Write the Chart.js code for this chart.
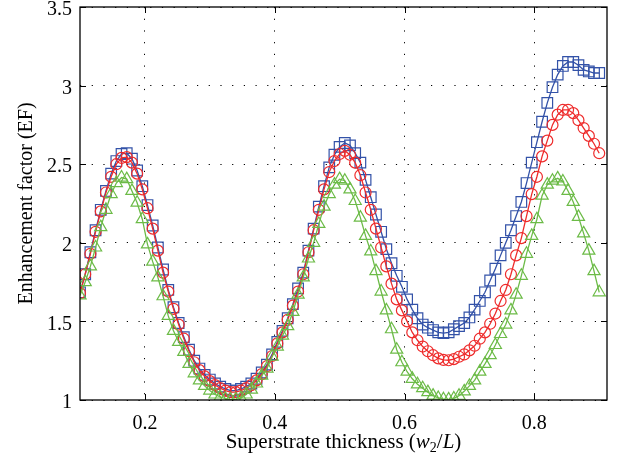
<!DOCTYPE html>
<html>
<head>
<meta charset="utf-8">
<script src="https://cdn.jsdelivr.net/npm/chart.js@4.4.0/dist/chart.umd.min.js"></script>
<style>
  html, body { margin: 0; padding: 0; background: #fff; }
  #wrap { position: relative; width: 619px; height: 465px; }
</style>
</head>
<body>
<div id="wrap"><canvas id="chart" width="619" height="465"></canvas></div>
<script>
// Données
const thickness = [
  0.100, 0.108, 0.116, 0.124, 0.132, 0.140, 0.148, 0.156, 0.164, 0.172,
  0.180, 0.188, 0.196, 0.204, 0.212, 0.220, 0.228, 0.236, 0.244, 0.252,
  0.260, 0.268, 0.276, 0.284, 0.292, 0.300, 0.308, 0.316, 0.324, 0.332,
  0.340, 0.348, 0.356, 0.364, 0.372, 0.380, 0.388, 0.396, 0.404, 0.412,
  0.420, 0.428, 0.436, 0.444, 0.452, 0.460, 0.468, 0.476, 0.484, 0.492,
  0.500, 0.508, 0.516, 0.524, 0.532, 0.540, 0.548, 0.556, 0.564, 0.572,
  0.580, 0.588, 0.596, 0.604, 0.612, 0.620, 0.628, 0.636, 0.644, 0.652,
  0.660, 0.668, 0.676, 0.684, 0.692, 0.700, 0.708, 0.716, 0.724, 0.732,
  0.740, 0.748, 0.756, 0.764, 0.772, 0.780, 0.788, 0.796, 0.804, 0.812,
  0.820, 0.828, 0.836, 0.844, 0.852, 0.860, 0.868, 0.876, 0.884, 0.892,
  0.900
];

const efSquares = [
  1.685, 1.80, 1.94, 2.08, 2.21, 2.33, 2.44, 2.52, 2.565, 2.57,
  2.535, 2.46, 2.36, 2.24, 2.11, 1.97, 1.83, 1.70, 1.59, 1.49,
  1.40, 1.32, 1.25, 1.20, 1.16, 1.13, 1.105, 1.085, 1.07, 1.06,
  1.06, 1.07, 1.085, 1.105, 1.135, 1.175, 1.225, 1.29, 1.37, 1.44,
  1.52, 1.61, 1.71, 1.81, 1.95, 2.09, 2.23, 2.36, 2.48, 2.56,
  2.61, 2.635, 2.62, 2.57, 2.51, 2.40, 2.29, 2.18, 2.07, 1.96,
  1.87, 1.79, 1.72, 1.64, 1.575, 1.52, 1.48, 1.46, 1.445, 1.43,
  1.425, 1.43, 1.45, 1.47, 1.49, 1.525, 1.575, 1.63, 1.685, 1.76,
  1.835, 1.92, 2.00, 2.08, 2.17, 2.26, 2.38, 2.51, 2.64, 2.77,
  2.89, 2.99, 3.07, 3.125, 3.15, 3.15, 3.13, 3.10, 3.09, 3.08,
  3.08
];

const efCircles = [
  1.68, 1.80, 1.93, 2.07, 2.20, 2.32, 2.42, 2.50, 2.54, 2.545,
  2.51, 2.44, 2.34, 2.22, 2.09, 1.95, 1.81, 1.69, 1.58, 1.48,
  1.39, 1.31, 1.24, 1.19, 1.15, 1.12, 1.095, 1.075, 1.06, 1.05,
  1.05, 1.06, 1.075, 1.095, 1.125, 1.165, 1.215, 1.28, 1.36, 1.43,
  1.51, 1.60, 1.69, 1.80, 1.94, 2.08, 2.21, 2.34, 2.45, 2.52,
  2.565, 2.585, 2.56, 2.51, 2.43, 2.32, 2.21, 2.09, 1.97, 1.85,
  1.74, 1.64, 1.57, 1.50, 1.43, 1.38, 1.34, 1.31, 1.285, 1.265,
  1.255, 1.253, 1.26, 1.275, 1.29, 1.316, 1.345, 1.39, 1.43, 1.485,
  1.55, 1.63, 1.70, 1.80, 1.92, 2.03, 2.17, 2.31, 2.42, 2.55,
  2.65, 2.75, 2.815, 2.845, 2.846, 2.825, 2.78, 2.73, 2.68, 2.63,
  2.57
];

const efTriangles = [
  1.665, 1.75, 1.85, 1.97, 2.10, 2.21, 2.31, 2.38, 2.415, 2.405,
  2.33, 2.255, 2.15, 1.99, 1.88, 1.78, 1.66, 1.535, 1.44, 1.37,
  1.306, 1.23, 1.17, 1.125, 1.09, 1.06, 1.035, 1.02, 1.008, 1.002,
  1.004, 1.012, 1.035, 1.066, 1.105, 1.155, 1.20, 1.275, 1.34, 1.41,
  1.47, 1.56, 1.67, 1.78, 1.90, 2.00, 2.12, 2.23, 2.31, 2.37,
  2.405, 2.395, 2.34, 2.266, 2.16, 2.044, 1.945, 1.82, 1.69, 1.57,
  1.45, 1.32, 1.24, 1.18, 1.135, 1.10, 1.075, 1.05, 1.028, 1.013,
  1.005, 1.004, 1.01, 1.027, 1.055, 1.09, 1.125, 1.18, 1.23, 1.285,
  1.35, 1.42, 1.48, 1.57, 1.67, 1.79, 1.93, 2.044, 2.15, 2.30,
  2.37, 2.395, 2.41, 2.39, 2.33, 2.26, 2.165, 2.06, 1.95, 1.82,
  1.685
];

const xTicks = [0.2, 0.4, 0.6, 0.8];
const yTicks = [1, 1.5, 2, 2.5, 3, 3.5];

const FONT = "'Liberation Serif', 'DejaVu Serif', serif";

function toPoints(ys) {
  return thickness.map((x, i) => ({ x: x, y: ys[i] }));
}

// Cadre, petites graduations intérieures et titres d'axes
const framePlugin = {
  id: "frame",
  afterDraw(chart) {
    const { ctx, chartArea: a, scales } = chart;
    ctx.save();
    ctx.strokeStyle = "#000";
    ctx.lineWidth = 1.3;
    ctx.strokeRect(a.left, a.top, a.right - a.left, a.bottom - a.top);

    const t = 6;
    ctx.lineWidth = 1;
    ctx.beginPath();
    xTicks.forEach((v) => {
      const px = Math.round(scales.x.getPixelForValue(v)) + 0.5;
      ctx.moveTo(px, a.bottom); ctx.lineTo(px, a.bottom - t);
      ctx.moveTo(px, a.top); ctx.lineTo(px, a.top + t);
    });
    yTicks.forEach((v) => {
      const py = Math.round(scales.y.getPixelForValue(v)) + 0.5;
      ctx.moveTo(a.left, py); ctx.lineTo(a.left + t, py);
      ctx.moveTo(a.right, py); ctx.lineTo(a.right - t, py);
    });
    ctx.stroke();

    // titre de l'axe y
    ctx.fillStyle = "#000";
    ctx.font = "20px " + FONT;
    ctx.textAlign = "center";
    ctx.textBaseline = "middle";
    ctx.save();
    ctx.translate(27, (a.top + a.bottom) / 2);
    ctx.rotate(-Math.PI / 2);
    ctx.fillText("Enhancement factor (EF)", 0, 0);
    ctx.restore();

    // titre de l'axe x avec italique et indice
    const parts = [
      { s: "Superstrate thickness (", f: "21px " + FONT, dy: 0 },
      { s: "w", f: "italic 21px " + FONT, dy: 0 },
      { s: "2", f: "14px " + FONT, dy: 4 },
      { s: "/", f: "21px " + FONT, dy: 0 },
      { s: "L", f: "italic 21px " + FONT, dy: 0 },
      { s: ")", f: "21px " + FONT, dy: 0 },
    ];
    let total = 0;
    parts.forEach((p) => { ctx.font = p.f; p.w = ctx.measureText(p.s).width; total += p.w; });
    let x = (a.left + a.right) / 2 - total / 2;
    const y = 448;
    ctx.textAlign = "left";
    ctx.textBaseline = "alphabetic";
    parts.forEach((p) => {
      ctx.font = p.f;
      ctx.fillText(p.s, x, y + p.dy);
      x += p.w;
    });
    ctx.restore();
  },
};

new Chart(document.getElementById("chart"), {
  type: "line",
  data: {
    datasets: [
      {
        data: toPoints(efTriangles),
        borderColor: "#6cbb47",
        backgroundColor: "rgba(0,0,0,0)",
        borderWidth: 1.3,
        pointStyle: "triangle",
        pointRadius: 7,
        pointBorderWidth: 1.2,
        pointBorderColor: "#6cbb47",
        order: 1,
      },
      {
        data: toPoints(efCircles),
        borderColor: "#ee2b2b",
        backgroundColor: "rgba(0,0,0,0)",
        borderWidth: 1.3,
        pointStyle: "circle",
        pointRadius: 5.5,
        pointBorderWidth: 1.2,
        pointBorderColor: "#ee2b2b",
        order: 2,
      },
      {
        data: toPoints(efSquares),
        borderColor: "#3352a8",
        backgroundColor: "rgba(0,0,0,0)",
        borderWidth: 1.3,
        pointStyle: "rect",
        pointRadius: 7.5,
        pointBorderWidth: 1.2,
        pointBorderColor: "#3352a8",
        order: 3,
      },
    ],
  },
  options: {
    responsive: false,
    animation: false,
    events: [],
    layout: { autoPadding: false, padding: { left: 0, right: 12, top: 7, bottom: 0 } },
    plugins: { legend: { display: false }, tooltip: { enabled: false } },
    elements: { line: { tension: 0 } },
    scales: {
      x: {
        type: "linear",
        min: 0.1,
        max: 0.912,
        afterBuildTicks: (s) => { s.ticks = xTicks.map((v) => ({ value: v })); },
        afterFit: (s) => {
          s.height = 65;
          s.paddingLeft = 0;
          s.paddingRight = 0;
        },
        ticks: {
          color: "#000",
          padding: 12,
          maxRotation: 0,
          font: { family: FONT, size: 20 },
          callback: (v) => String(v),
        },
        grid: { color: "#000", lineWidth: 1, drawTicks: false },
        border: { display: false, dash: [1.2, 10.5] },
      },
      y: {
        min: 1,
        max: 3.5,
        afterBuildTicks: (s) => { s.ticks = yTicks.map((v) => ({ value: v })); },
        afterFit: (s) => {
          s.width = 80;
          s.paddingTop = 0;
          s.paddingBottom = 0;
        },
        ticks: {
          color: "#000",
          padding: 8,
          labelOffset: 3,
          font: { family: FONT, size: 20 },
          callback: (v) => String(v),
        },
        grid: { color: "#000", lineWidth: 1, drawTicks: false },
        border: { display: false, dash: [1.2, 10.5] },
      },
    },
  },
  plugins: [framePlugin],
});
</script>
</body>
</html>
